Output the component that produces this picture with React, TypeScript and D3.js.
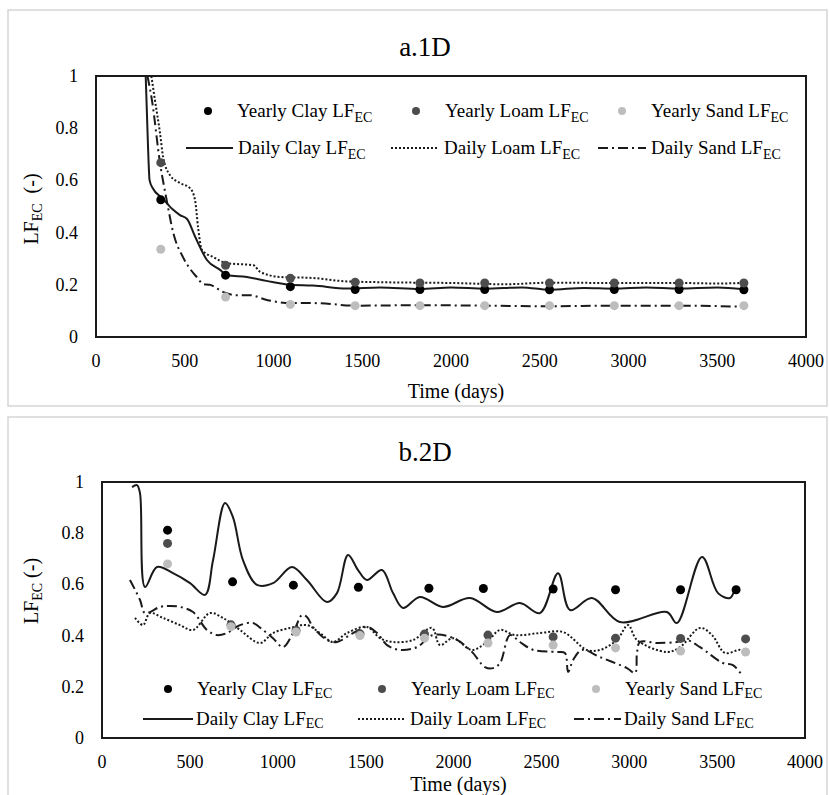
import React from 'react';
import * as d3 from 'd3';

type Pt = [number, number];

// tick labels shared by both panels
const X_TICKS = [0, 500, 1000, 1500, 2000, 2500, 3000, 3500, 4000];
const Y_TICKS = [0, 0.2, 0.4, 0.6, 0.8, 1];
const Y_TICK_LABELS = ['0', '0.2', '0.4', '0.6', '0.8', '1'];

// ---- a.1D ----
const DAYS_1D = [365, 730, 1095, 1460, 1825, 2190, 2555, 2920, 3285, 3650];
const clayYearly1D = [0.526, 0.237, 0.193, 0.182, 0.182, 0.182, 0.181, 0.182, 0.182, 0.181];
const loamYearly1D = [0.668, 0.275, 0.225, 0.21, 0.207, 0.207, 0.207, 0.207, 0.207, 0.207];
const sandYearly1D = [0.336, 0.153, 0.125, 0.12, 0.12, 0.12, 0.12, 0.12, 0.12, 0.12];

const clayDaily1D: Pt[] = [
  [280, 1.0], [292, 0.75], [302, 0.6], [320, 0.57], [372, 0.533], [430, 0.49],
  [473, 0.467], [513, 0.452], [558, 0.385], [625, 0.295], [699, 0.257], [738, 0.237],
  [850, 0.23], [960, 0.215], [1093, 0.2], [1222, 0.197], [1414, 0.186], [1600, 0.19],
  [1825, 0.184], [2000, 0.19], [2190, 0.185], [2400, 0.19], [2555, 0.181], [2750, 0.188],
  [2920, 0.185], [3100, 0.19], [3285, 0.186], [3500, 0.19], [3650, 0.183],
];
const loamDaily1D: Pt[] = [
  [312, 1.0], [332, 0.908], [361, 0.78], [378, 0.69], [417, 0.62], [473, 0.59],
  [530, 0.57], [558, 0.525], [575, 0.42], [597, 0.333], [662, 0.306], [737, 0.283],
  [887, 0.275], [924, 0.25], [1037, 0.23], [1222, 0.226], [1414, 0.213], [1600, 0.21],
  [1825, 0.208], [2000, 0.207], [2300, 0.202], [2555, 0.208], [2920, 0.207],
  [3285, 0.207], [3500, 0.205], [3650, 0.207],
];
const sandDaily1D: Pt[] = [
  [290, 1.0], [315, 0.908], [361, 0.665], [398, 0.525], [436, 0.397], [490, 0.306],
  [567, 0.23], [605, 0.203], [642, 0.2], [718, 0.172], [793, 0.16], [868, 0.16],
  [962, 0.142], [1093, 0.13], [1222, 0.13], [1470, 0.12], [1825, 0.122], [2190, 0.12],
  [2555, 0.118], [2920, 0.12], [3285, 0.12], [3650, 0.116],
];

// ---- b.2D ----
const clayDays2D = [373, 743, 1089, 1459, 1860, 2170, 2567, 2922, 3292, 3608];
const clayYearly2D = [0.812, 0.61, 0.597, 0.589, 0.585, 0.584, 0.582, 0.579, 0.579, 0.579];
const soilDays2D = [373, 734, 1104, 1468, 1835, 2196, 2567, 2922, 3292, 3662];
const loamYearly2D = [0.76, 0.442, 0.42, 0.407, 0.406, 0.402, 0.395, 0.39, 0.389, 0.387];
const sandYearly2D = [0.68, 0.435, 0.414, 0.4, 0.39, 0.371, 0.363, 0.352, 0.34, 0.336];

const clayDaily2D: Pt[] = [
  [171, 0.98], [199, 0.988], [216, 0.957], [245, 0.59], [313, 0.668], [404, 0.644],
  [501, 0.605], [586, 0.559], [632, 0.695], [700, 0.918], [745, 0.863], [802, 0.695],
  [882, 0.598], [973, 0.605], [1081, 0.668], [1166, 0.617], [1280, 0.531], [1337, 0.566],
  [1400, 0.715], [1457, 0.656], [1507, 0.617], [1593, 0.656], [1656, 0.566], [1713, 0.508],
  [1809, 0.551], [1940, 0.512], [2094, 0.547], [2247, 0.492], [2378, 0.527], [2492, 0.488],
  [2595, 0.644], [2663, 0.5], [2788, 0.547], [2947, 0.453], [3214, 0.492], [3271, 0.449],
  [3414, 0.707], [3505, 0.566], [3573, 0.547], [3602, 0.586],
];
const loamDaily2D: Pt[] = [
  [188, 0.469], [233, 0.441], [273, 0.488], [347, 0.469], [444, 0.441], [518, 0.422],
  [614, 0.488], [688, 0.469], [785, 0.422], [899, 0.371], [973, 0.41], [1070, 0.43],
  [1166, 0.441], [1240, 0.41], [1314, 0.375], [1394, 0.41], [1507, 0.434], [1582, 0.39],
  [1656, 0.375], [1770, 0.383], [1877, 0.43], [1923, 0.363], [1997, 0.39], [2105, 0.344],
  [2190, 0.375], [2265, 0.422], [2350, 0.402], [2492, 0.41], [2623, 0.414], [2759, 0.344],
  [2834, 0.344], [2930, 0.383], [2993, 0.441], [3044, 0.383], [3214, 0.336], [3289, 0.355],
  [3403, 0.43], [3471, 0.402], [3545, 0.332], [3630, 0.344], [3660, 0.33],
];
const sandDaily2D: Pt[] = [
  [159, 0.617], [216, 0.54], [245, 0.488], [330, 0.512], [387, 0.516], [444, 0.512],
  [518, 0.492], [597, 0.422], [654, 0.402], [711, 0.41], [785, 0.441], [859, 0.449],
  [916, 0.422], [973, 0.39], [1030, 0.355], [1087, 0.41], [1138, 0.48], [1166, 0.473],
  [1200, 0.434], [1280, 0.383], [1337, 0.375], [1428, 0.41], [1507, 0.434], [1565, 0.41],
  [1622, 0.363], [1696, 0.344], [1792, 0.355], [1883, 0.402], [2000, 0.39], [2100, 0.34],
  [2179, 0.277], [2225, 0.273], [2265, 0.293], [2321, 0.402], [2378, 0.375], [2454, 0.344],
  [2588, 0.336], [2634, 0.332], [2652, 0.258], [2681, 0.305], [2731, 0.344], [2834, 0.316],
  [2987, 0.273], [3033, 0.254], [3044, 0.332], [3061, 0.375], [3158, 0.371], [3271, 0.375],
  [3328, 0.383], [3403, 0.355], [3533, 0.293], [3590, 0.285], [3641, 0.246],
];

const FONT = "'Liberation Serif', 'DejaVu Serif', serif";
const INK = '#1a1a1a';
const COL_CLAY = '#000000';
const COL_LOAM = '#4d4d4d';
const COL_SAND = '#bdbdbd';
const DASH_LOAM = '2,2';
const DASH_SAND = '10,4,2,4';

function LF({ sub, dy, suffix = '' }: { sub: number; dy: number; suffix?: string }) {
  return (
    <>
      <tspan>LF</tspan>
      <tspan fontSize={sub} dy={dy}>EC</tspan>
      <tspan dy={-dy}>{suffix}</tspan>
    </>
  );
}

interface Legend {
  dotY: number;
  lineY: number;
  dots: number[];
  dotText: number[];
  lines: [number, number][];
  lineText: number[];
  subDy: number;
}

interface PanelProps {
  id: string;
  title: string;
  titleY: number;
  boxTop: number;
  boxBottom: number;
  left: number;
  right: number;
  top: number;
  bottom: number;
  yLabelY: number;
  yLabelGap: string;
  xLabelY: number;
  clayDays: number[];
  clayY: number[];
  soilDays: number[];
  loamY: number[];
  sandY: number[];
  clayD: Pt[];
  loamD: Pt[];
  sandD: Pt[];
  curve: d3.CurveFactory;
  legend: Legend;
}

function Panel(p: PanelProps) {
  const x = d3.scaleLinear().domain([0, 4000]).range([p.left, p.right]);
  const y = d3.scaleLinear().domain([0, 1]).range([p.bottom, p.top]);
  const line = d3.line<Pt>().x((d) => x(d[0])).y((d) => y(d[1])).curve(p.curve);
  const L = p.legend;
  const labels = ['Yearly Clay ', 'Yearly Loam ', 'Yearly Sand '];
  const dailyLabels = ['Daily Clay ', 'Daily Loam ', 'Daily Sand '];
  const dotCols = [COL_CLAY, COL_LOAM, COL_SAND];
  const dashes = [undefined, DASH_LOAM, DASH_SAND];

  return (
    <g>
      <rect x={8} y={p.boxTop} width={819} height={p.boxBottom - p.boxTop}
        fill="white" stroke="#d6d6d6" strokeWidth={1.5} />
      <text x={425} y={p.titleY} fontSize={27} textAnchor="middle" dominantBaseline="central">
        {p.title}
      </text>
      <defs>
        <clipPath id={`clip-${p.id}`}>
          <rect x={p.left} y={p.top} width={p.right - p.left} height={p.bottom - p.top} />
        </clipPath>
      </defs>

      {/* legend */}
      {L.dots.map((dx, i) => (
        <g key={`ld${i}`}>
          <circle cx={dx} cy={L.dotY} r={4} fill={dotCols[i]} />
          <text x={L.dotText[i]} y={L.dotY + 6} fontSize={19}>
            {labels[i]}<LF sub={14} dy={L.subDy} />
          </text>
        </g>
      ))}
      {L.lines.map(([a, b], i) => (
        <g key={`ll${i}`}>
          <line x1={a} x2={b} y1={L.lineY} y2={L.lineY} stroke={INK} strokeWidth={2}
            strokeDasharray={dashes[i]} />
          <text x={L.lineText[i]} y={L.lineY + 6} fontSize={19}>
            {dailyLabels[i]}<LF sub={14} dy={L.subDy} />
          </text>
        </g>
      ))}

      <g clipPath={`url(#clip-${p.id})`} fill="none" stroke={INK} strokeWidth={2}>
        <path d={line(p.clayD) ?? ''} />
        <path d={line(p.loamD) ?? ''} strokeDasharray={DASH_LOAM} />
        <path d={line(p.sandD) ?? ''} strokeDasharray={DASH_SAND} />
      </g>
      <g>
        {p.clayDays.map((d, i) => (
          <circle key={`c${i}`} cx={x(d)} cy={y(p.clayY[i])} r={4.5} fill={COL_CLAY} />
        ))}
        {p.soilDays.map((d, i) => (
          <circle key={`l${i}`} cx={x(d)} cy={y(p.loamY[i])} r={4.5} fill={COL_LOAM} />
        ))}
        {p.soilDays.map((d, i) => (
          <circle key={`s${i}`} cx={x(d)} cy={y(p.sandY[i])} r={4.5} fill={COL_SAND} />
        ))}
      </g>

      <rect x={p.left} y={p.top} width={p.right - p.left} height={p.bottom - p.top}
        fill="none" stroke={INK} strokeWidth={2} />

      {X_TICKS.map((t) => (
        <text key={`x${t}`} x={x(t)} y={p.bottom + 24} fontSize={18} textAnchor="middle"
          dominantBaseline="central">{t}</text>
      ))}
      {Y_TICKS.map((t, i) => (
        <text key={`y${t}`} x={p.left - 18} y={y(t)} fontSize={18} textAnchor="end"
          dominantBaseline="central">{Y_TICK_LABELS[i]}</text>
      ))}
      <text x={(p.left + p.right) / 2 + 5} y={p.xLabelY} fontSize={20} textAnchor="middle"
        dominantBaseline="central">Time (days)</text>
      <text transform={`translate(38,${p.yLabelY}) rotate(-90)`} fontSize={20} textAnchor="middle">
        <LF sub={14} dy={4} suffix={`${p.yLabelGap}(-)`} />
      </text>
    </g>
  );
}

export default function App() {
  return (
    <svg width={829} height={795} style={{ position: 'absolute', left: 0, top: 0, fontFamily: FONT }}
      fill="#000">
      <rect width={829} height={795} fill="white" />
      <Panel
        id="a" title="a.1D" titleY={47} boxTop={10} boxBottom={406}
        left={96} right={806} top={76} bottom={337} yLabelY={209} yLabelGap={'\u00a0\u00a0'}
        xLabelY={391}
        clayDays={DAYS_1D} clayY={clayYearly1D} soilDays={DAYS_1D}
        loamY={loamYearly1D} sandY={sandYearly1D}
        clayD={clayDaily1D} loamD={loamDaily1D} sandD={sandDaily1D}
        curve={d3.curveMonotoneX}
        legend={{
          dotY: 111, lineY: 148, dots: [208, 416, 622], dotText: [237, 445, 651],
          lines: [[186, 233], [391, 437], [598, 646]], lineText: [238, 444, 651], subDy: 5,
        }}
      />
      <Panel
        id="b" title="b.2D" titleY={452} boxTop={417} boxBottom={820}
        left={102} right={805} top={482} bottom={738} yLabelY={591} yLabelGap={'\u00a0'}
        xLabelY={784}
        clayDays={clayDays2D} clayY={clayYearly2D} soilDays={soilDays2D}
        loamY={loamYearly2D} sandY={sandYearly2D}
        clayD={clayDaily2D} loamD={loamDaily2D} sandD={sandDaily2D}
        curve={d3.curveCatmullRom.alpha(0.5)}
        legend={{
          dotY: 689, lineY: 719, dots: [168, 382, 596], dotText: [197, 411, 625],
          lines: [[143, 193], [358, 406], [574, 621]], lineText: [196, 410, 624], subDy: 3,
        }}
      />
    </svg>
  );
}
